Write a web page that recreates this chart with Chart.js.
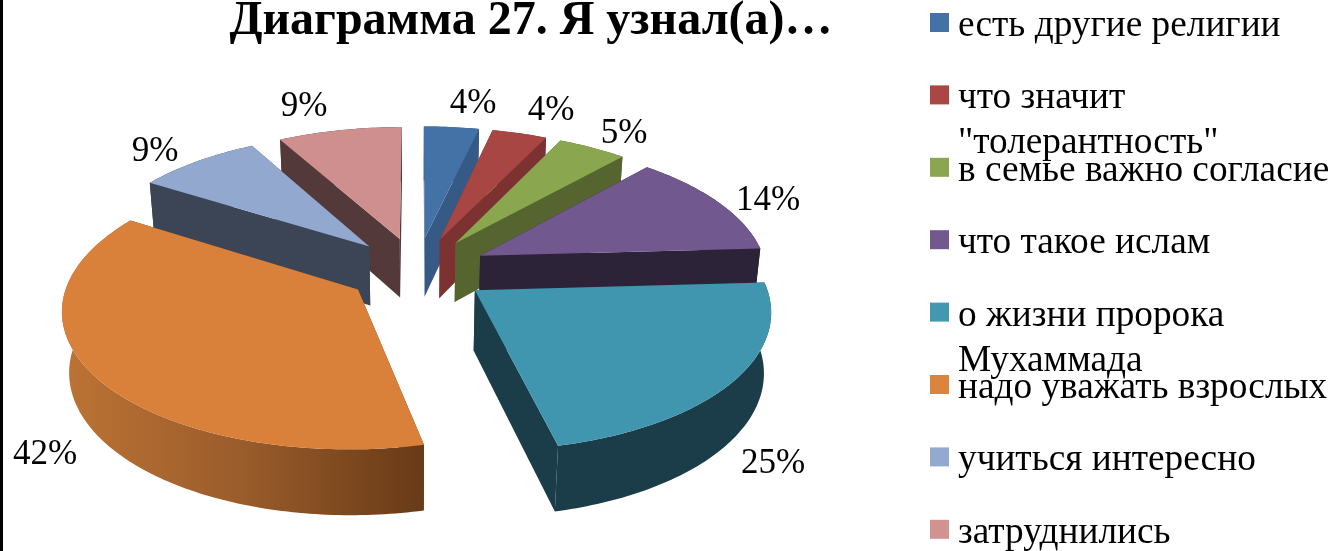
<!DOCTYPE html>
<html>
<head>
<meta charset="utf-8">
<title>Диаграмма 27</title>
<script src="https://cdn.jsdelivr.net/npm/chart.js@4"></script>
<style>
  html, body { margin: 0; padding: 0; background: #fff; overflow: hidden; }
  #wrap { position: relative; width: 1336px; height: 551px; }
</style>
</head>
<body>
<div id="wrap"><canvas id="myChart"></canvas></div>
<script>
const titleText = "Диаграмма 27. Я узнал(а)…";
const categories = [
  ["есть другие религии"],
  ["что значит", "\"толерантность\""],
  ["в семье важно согласие"],
  ["что такое ислам"],
  ["о жизни пророка", "Мухаммада"],
  ["надо уважать взрослых"],
  ["учиться интересно"],
  ["затруднились"],
];
const values = [4, 4, 5, 14, 25, 42, 9, 9];
const topColors = ["#4472a6", "#a84644", "#8aa64e", "#71588f", "#4096af", "#d9803a", "#93a8cf", "#cf8f8f"];
const legendColors = ["#4472a6", "#aa4644", "#8aa64e", "#71588f", "#4198af", "#db843d", "#93a9cf", "#d19392"];
const sideColors = ["#355a85", "#7c3230", "#566530", "#2d2338", "#1b3c49", "#a8652f", "#3b4556", "#533939"];
const orangeWall = ["#bc7334", "#9a5c2b", "#693b17"];
// where the percent labels sit (centre of text)
const labelSpots = [[473, 104], [551, 111], [624, 134], [768, 201], [773, 464], [45, 455], [155, 152], [304, 107]];

// tilted plane projection, fitted by eye to the picture
const view = { cx: 417, cy: 270, R: 287, explode: 71, squash: 0.466, persp: 0.00045, depth: 61, shrink: 0.02 };

function project(X, Y, low) {
  const s = 1 / (1 + view.persp * Y + (low ? view.shrink : 0));
  return [view.cx + X * s, view.cy - view.squash * Y * s + (low ? view.depth * s : 0)];
}

function slicePoints(arc) {
  const mid = (arc.startAngle + arc.endAngle) / 2;
  const ox = Math.cos(mid) * view.explode;
  const oy = -Math.sin(mid) * view.explode;
  const rim = [];
  const steps = Math.ceil((arc.endAngle - arc.startAngle) * 180 / Math.PI);
  for (let i = 0; i <= steps; i++) {
    const a = arc.startAngle + (arc.endAngle - arc.startAngle) * i / steps;
    rim.push([ox + Math.cos(a) * view.R, oy - Math.sin(a) * view.R]);
  }
  return { apex: [ox, oy], rim, mid };
}

function fillPath(ctx, pts, color) {
  ctx.beginPath();
  pts.forEach((p, i) => (i ? ctx.lineTo(p[0], p[1]) : ctx.moveTo(p[0], p[1])));
  ctx.closePath();
  ctx.fillStyle = color;
  ctx.fill();
}

const pie3d = {
  id: "pie3d",
  beforeDatasetsDraw(chart) {
    const ctx = chart.ctx;
    const arcs = chart.getDatasetMeta(0).data;
    const order = arcs
      .map((arc, i) => ({ i, geo: slicePoints(arc) }))
      .sort((a, b) => b.geo.apex[1] - a.geo.apex[1]);

    order.forEach(({ i, geo }) => {
      let side = sideColors[i];
      if (i === 5) {
        const g = ctx.createLinearGradient(65, 0, 420, 0);
        orangeWall.forEach((c, k) => g.addColorStop(k / (orangeWall.length - 1), c));
        side = g;
      }
      const first = geo.rim[0];
      const last = geo.rim[geo.rim.length - 1];
      const wall = (a, b) => [project(a[0], a[1]), project(b[0], b[1]), project(b[0], b[1], true), project(a[0], a[1], true)];
      const darkWall = i === 5 ? "#693b17" : sideColors[i];
      fillPath(ctx, wall(geo.apex, first), darkWall);
      fillPath(ctx, wall(geo.apex, last), darkWall);
      const up = geo.rim.map((p) => project(p[0], p[1]));
      const low = geo.rim.map((p) => project(p[0], p[1], true)).reverse();
      fillPath(ctx, up.concat(low), side);
      fillPath(ctx, [project(geo.apex[0], geo.apex[1])].concat(up), topColors[i]);
    });
    return false; // the arcs are already painted in 3d
  },
  afterDraw(chart) {
    const ctx = chart.ctx;
    ctx.save();
    // black edge on the left of the scan
    ctx.fillStyle = "#000";
    ctx.fillRect(0, 0, 3, 551);

    ctx.fillStyle = "#000";
    ctx.textBaseline = "middle";
    ctx.textAlign = "center";
    ctx.font = "35px 'Liberation Serif'";
    values.forEach((v, i) => ctx.fillText(v + "%", labelSpots[i][0], labelSpots[i][1]));

    ctx.textAlign = "left";
    ctx.textBaseline = "alphabetic";
    ctx.font = "37.3px 'Liberation Serif'";
    categories.forEach((lines, i) => {
      const top = 13 + i * 72.4;
      ctx.fillStyle = legendColors[i];
      ctx.fillRect(930, top, 19, 19);
      ctx.fillStyle = "#000";
      lines.forEach((line, k) => ctx.fillText(line, 958, 36 + i * 72.4 + k * 45));
    });
    ctx.restore();
  },
};

new Chart(document.getElementById("myChart"), {
  type: "pie",
  data: {
    labels: categories.map((c) => c.join(" ")),
    datasets: [{ data: values, backgroundColor: topColors, borderWidth: 0 }],
  },
  options: {
    responsive: true,
    maintainAspectRatio: false,
    animation: false,
    layout: { padding: { right: 274 } },
    plugins: {
      legend: { display: false },
      tooltip: { enabled: false },
      title: {
        display: true,
        text: titleText,
        fullSize: false,
        color: "#000",
        font: { family: "'Liberation Serif'", size: 48, weight: "bold", lineHeight: 0.9 },
        padding: { top: 0, bottom: 0 },
      },
    },
  },
  plugins: [pie3d],
});
</script>
</body>
</html>
